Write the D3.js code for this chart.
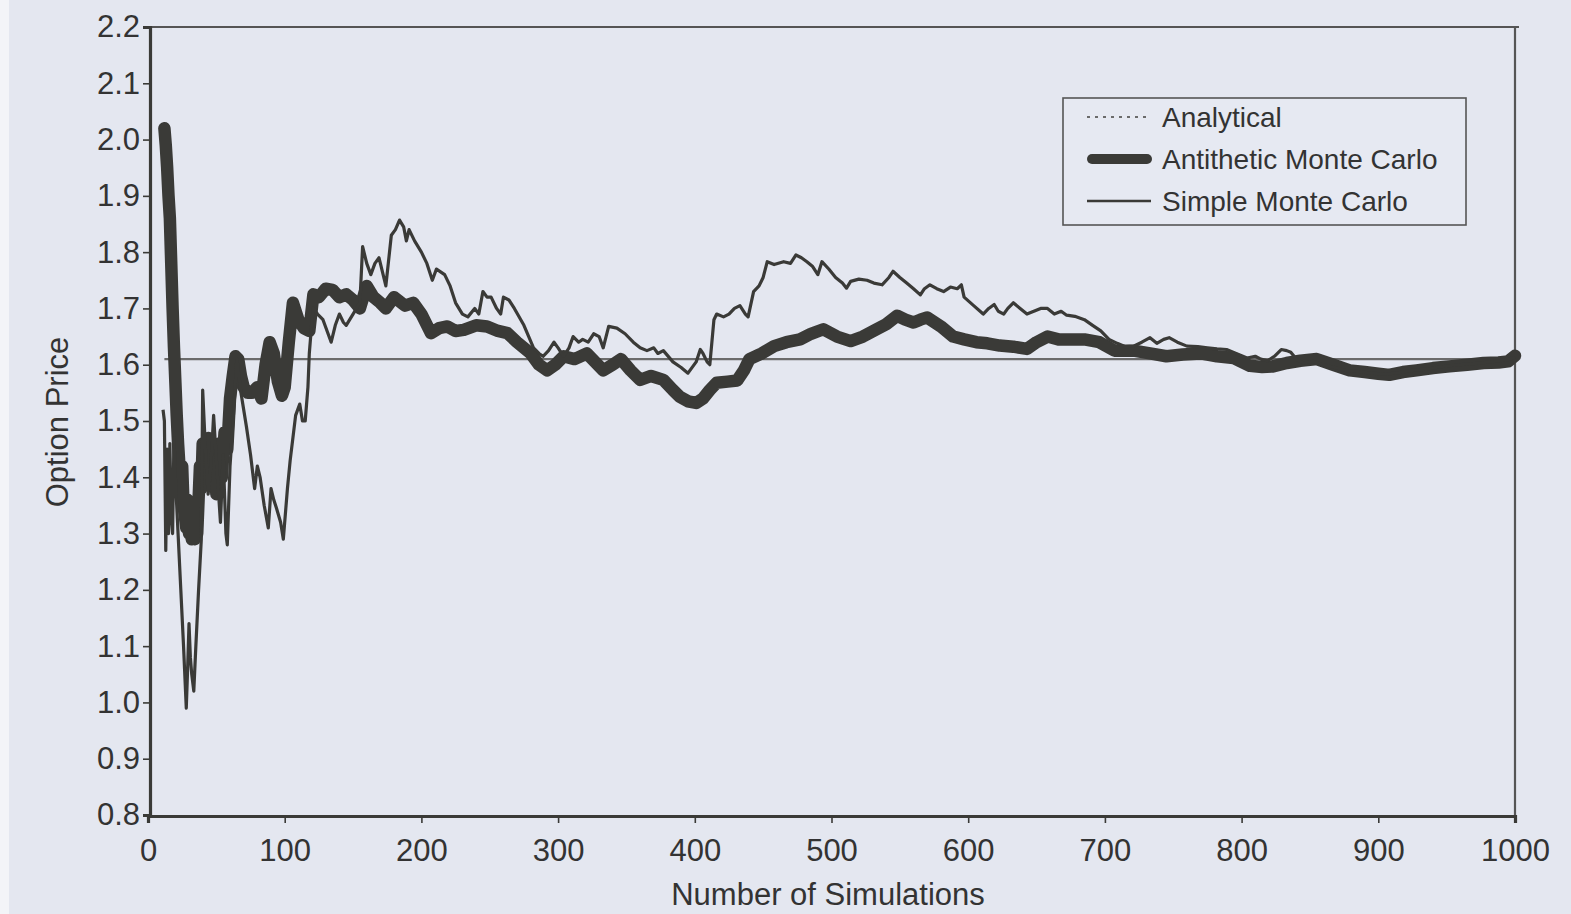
<!DOCTYPE html>
<html>
<head>
<meta charset="utf-8">
<script src="https://cdn.jsdelivr.net/npm/d3@7"></script>
<style>
  body { margin: 0; background: #e4e7f0; }
  svg { display: block; }
  text { font-family: "Liberation Sans", Arial, sans-serif; fill: #333; }
</style>
</head>
<body>
<div id="chart"></div>
<script>
// [simulations, price]
var antithetic = [
  [12, 2.02], [13, 1.99], [14, 1.95], [15, 1.90], [16, 1.86], [17, 1.78], [18, 1.70], [19, 1.63],
  [20, 1.57], [21, 1.51], [22, 1.46], [23, 1.42], [24, 1.37], [25, 1.42], [26, 1.35], [27, 1.33],
  [28, 1.31], [29, 1.36], [30, 1.30], [31, 1.33], [32, 1.29], [33, 1.31], [34, 1.29], [35, 1.32],
  [36, 1.30], [37, 1.36], [38, 1.42], [39, 1.38], [40, 1.46], [42, 1.40], [44, 1.47], [46, 1.40],
  [48, 1.45], [50, 1.37], [52, 1.46], [54, 1.40], [56, 1.48], [58, 1.45], [60, 1.54], [62, 1.58],
  [64, 1.615], [66, 1.61], [68, 1.58], [70, 1.56], [73, 1.55], [76, 1.55], [80, 1.56], [83, 1.54],
  [86, 1.60], [89, 1.64], [92, 1.62], [95, 1.57], [98, 1.545], [100, 1.56], [103, 1.64], [106, 1.71],
  [110, 1.68], [114, 1.665], [118, 1.66], [121, 1.725], [125, 1.72], [130, 1.735], [135, 1.733],
  [140, 1.72], [145, 1.725], [150, 1.715], [155, 1.70], [160, 1.74], [165, 1.72], [170, 1.71],
  [174, 1.70], [180, 1.72], [188, 1.705], [194, 1.71], [200, 1.69], [207, 1.656], [213, 1.665],
  [219, 1.668], [225, 1.66], [231, 1.662], [240, 1.67], [248, 1.668], [256, 1.66], [263, 1.656],
  [270, 1.64], [280, 1.62], [286, 1.60], [292, 1.59], [298, 1.60], [304, 1.615], [312, 1.61],
  [321, 1.62], [327, 1.605], [333, 1.59], [340, 1.60], [346, 1.61], [353, 1.59], [360, 1.573],
  [368, 1.58], [377, 1.573], [384, 1.555], [389, 1.543], [395, 1.535], [401, 1.532], [406, 1.54],
  [411, 1.555], [416, 1.568], [424, 1.57], [431, 1.572], [436, 1.59], [440, 1.61], [449, 1.62],
  [458, 1.633], [467, 1.64], [477, 1.645], [485, 1.655], [494, 1.663], [504, 1.65], [514, 1.642],
  [523, 1.65], [533, 1.663], [540, 1.672], [548, 1.687], [554, 1.68], [560, 1.675], [565, 1.68],
  [570, 1.684], [580, 1.668], [589, 1.65], [597, 1.645], [606, 1.64], [614, 1.638], [623, 1.634],
  [633, 1.632], [643, 1.628], [650, 1.64], [658, 1.65], [666, 1.645], [675, 1.645], [685, 1.645],
  [696, 1.64], [707, 1.625], [714, 1.625], [721, 1.625], [733, 1.62], [745, 1.615], [757, 1.618],
  [770, 1.62], [782, 1.615], [794, 1.612], [806, 1.598], [815, 1.596], [823, 1.597], [833, 1.603],
  [843, 1.607], [855, 1.61], [867, 1.60], [879, 1.59], [890, 1.587], [900, 1.584], [908, 1.582],
  [918, 1.587], [928, 1.59], [940, 1.594], [952, 1.597], [965, 1.60], [977, 1.603], [988, 1.604],
  [995, 1.606], [1000, 1.616]
];

var simple = [
  [11, 1.52], [12, 1.50], [13, 1.27], [14, 1.45], [15, 1.30], [16, 1.46], [17, 1.33], [18, 1.30],
  [19, 1.47], [20, 1.40], [21, 1.35], [22, 1.30], [24, 1.20], [26, 1.10], [28, 0.99], [29, 1.06],
  [30, 1.14], [31, 1.08], [32, 1.05], [33.5, 1.02], [35, 1.10], [37, 1.20], [39, 1.29], [40, 1.555],
  [42, 1.45], [44, 1.37], [46, 1.42], [48, 1.51], [50, 1.43], [53, 1.32], [55, 1.44], [57, 1.30],
  [58, 1.28], [60, 1.42], [62.5, 1.51], [65, 1.61], [68, 1.55], [72, 1.49], [75, 1.44], [78, 1.38],
  [80, 1.42], [82, 1.40], [85, 1.35], [88, 1.31], [90, 1.38], [92, 1.36], [94, 1.345], [97, 1.32],
  [99, 1.29], [102, 1.38], [104, 1.43], [106, 1.47], [108, 1.51], [111, 1.53], [113, 1.50],
  [115, 1.50], [117, 1.56], [118, 1.62], [120, 1.68], [121, 1.70], [124, 1.69], [128, 1.68],
  [131, 1.66], [134, 1.64], [137, 1.67], [140, 1.69], [143, 1.675], [145, 1.67], [150, 1.69],
  [155, 1.71], [157, 1.81], [160, 1.78], [163, 1.76], [166, 1.78], [169, 1.79], [172, 1.76],
  [174, 1.74], [178, 1.83], [181, 1.84], [184, 1.857], [187, 1.845], [189, 1.82], [191, 1.84],
  [195, 1.82], [200, 1.80], [204, 1.78], [208, 1.75], [211, 1.77], [214, 1.765], [217, 1.76],
  [221, 1.74], [225, 1.71], [230, 1.69], [234, 1.685], [239, 1.70], [242, 1.69], [245, 1.73],
  [248, 1.72], [251, 1.72], [255, 1.70], [258, 1.69], [260, 1.72], [264, 1.715], [268, 1.70],
  [275, 1.67], [282, 1.63], [286, 1.62], [289, 1.615], [293, 1.625], [297, 1.64], [300, 1.63],
  [304, 1.615], [308, 1.63], [311, 1.65], [315, 1.64], [318, 1.645], [322, 1.64], [326, 1.655],
  [330, 1.65], [333, 1.63], [337, 1.668], [343, 1.665], [349, 1.655], [355, 1.64], [360, 1.63],
  [365, 1.625], [370, 1.63], [373, 1.62], [377, 1.625], [384, 1.605], [390, 1.595], [395, 1.585],
  [401, 1.605], [404, 1.627], [406, 1.62], [409, 1.605], [411, 1.60], [414, 1.68], [416, 1.69],
  [421, 1.685], [425, 1.69], [429, 1.70], [433, 1.705], [437, 1.69], [439, 1.685], [443, 1.73],
  [447, 1.74], [450, 1.755], [453, 1.783], [458, 1.778], [465, 1.783], [470, 1.78], [474, 1.795],
  [478, 1.79], [482, 1.783], [486, 1.775], [490, 1.76], [493, 1.783], [498, 1.77], [503, 1.755],
  [508, 1.745], [511, 1.736], [514, 1.748], [520, 1.752], [526, 1.75], [531, 1.745], [537, 1.742],
  [542, 1.755], [545, 1.766], [550, 1.755], [555, 1.745], [560, 1.735], [565, 1.724], [568, 1.735],
  [572, 1.742], [577, 1.735], [582, 1.73], [587, 1.738], [592, 1.735], [595, 1.742], [597, 1.72],
  [604, 1.705], [611, 1.69], [615, 1.70], [619, 1.707], [622, 1.695], [626, 1.69], [629, 1.70],
  [633, 1.71], [638, 1.70], [643, 1.69], [648, 1.695], [653, 1.70], [658, 1.70], [663, 1.69],
  [668, 1.695], [672, 1.688], [678, 1.686], [685, 1.68], [691, 1.67], [697, 1.66], [703, 1.645],
  [709, 1.638], [715, 1.632], [721, 1.633], [727, 1.64], [733, 1.648], [738, 1.638], [743, 1.645],
  [747, 1.648], [753, 1.64], [760, 1.633], [768, 1.632], [775, 1.63], [782, 1.628], [789, 1.627],
  [796, 1.62], [804, 1.612], [810, 1.615], [814, 1.61], [819, 1.607], [824, 1.615], [829, 1.627],
  [833, 1.625], [836, 1.622], [840, 1.61], [845, 1.603], [852, 1.606], [860, 1.60], [868, 1.595],
  [876, 1.59], [885, 1.588], [895, 1.585], [905, 1.583], [915, 1.586], [925, 1.59], [935, 1.592],
  [945, 1.596], [955, 1.599], [965, 1.601], [975, 1.603], [985, 1.606], [995, 1.609], [1000, 1.614]
];

var analytical = [[12, 1.61], [1000, 1.61]];

var xTicks = [0, 100, 200, 300, 400, 500, 600, 700, 800, 900, 1000];
var yTicks = [0.8, 0.9, 1.0, 1.1, 1.2, 1.3, 1.4, 1.5, 1.6, 1.7, 1.8, 1.9, 2.0, 2.1, 2.2];

var legendNames = ["Analytical", "Antithetic Monte Carlo", "Simple Monte Carlo"];

var width = 1571,
height = 914;

var plotLeft = 148, plotRight = 1515, plotTop = 27, plotBottom = 815;

var ink = "#3a3a37";

var svg = d3.select("#chart")
.append("svg")
.attr("width", width)
.attr("height", height);

//Paper
svg.append("rect")
.attr("width", width)
.attr("height", height)
.attr("fill", "#e4e7f0");

svg.append("rect")
.attr("width", 9)
.attr("height", height)
.attr("fill", "#f3f4f8");

var xScale = d3.scaleLinear()
.domain([0, 1000])
.range([plotLeft, plotRight]);

var yScale = d3.scaleLinear()
.domain([0.8, 2.2])
.range([plotBottom, plotTop]);

//Frame top and right
svg.append("line")
.attr("x1", plotLeft).attr("x2", plotRight + 4)
.attr("y1", plotTop).attr("y2", plotTop)
.attr("stroke", "#555").attr("stroke-width", 2.2);

svg.append("line")
.attr("x1", plotRight).attr("x2", plotRight)
.attr("y1", plotTop).attr("y2", plotBottom)
.attr("stroke", "#555").attr("stroke-width", 2.2);

//Axes
var xAxis = d3.axisBottom(xScale)
.tickValues(xTicks)
.tickSize(7)
.tickPadding(15)
.tickFormat(d3.format("d"));

var yAxis = d3.axisLeft(yScale)
.tickValues(yTicks)
.tickSize(7)
.tickPadding(3)
.tickFormat(d3.format(".1f"));

var gx = svg.append("g")
.attr("transform", "translate(0," + (plotBottom + 1) + ")")
.call(xAxis);

var gy = svg.append("g")
.attr("transform", "translate(" + (plotLeft + 2) + ",0)")
.call(yAxis);

[gx, gy].forEach(function(g) {
  g.select(".domain").attr("stroke", ink).attr("stroke-width", 3.2);
  g.selectAll(".tick line").attr("stroke", ink).attr("stroke-width", 1.6);
  g.selectAll(".tick text")
  .style("font-family", "'Liberation Sans', Arial, sans-serif")
  .style("font-size", "31px")
  .attr("fill", "#333");
});

gx.selectAll(".tick text").attr("dy", "0.75em");

//Axis titles
svg.append("text")
.attr("x", 828)
.attr("y", 905)
.attr("text-anchor", "middle")
.style("font-size", "31px")
.text("Number of Simulations");

svg.append("text")
.attr("transform", "translate(68,422) rotate(-90)")
.attr("text-anchor", "middle")
.style("font-size", "31px")
.text("Option Price");

var line = d3.line()
.x(function(d) { return xScale(d[0]); })
.y(function(d) { return yScale(d[1]); });

//Analytical
svg.append("path")
.datum(analytical)
.attr("d", line)
.attr("fill", "none")
.attr("stroke", "#6b6b6b")
.attr("stroke-width", 2.4);

//Antithetic Monte Carlo
svg.append("path")
.datum(antithetic)
.attr("d", line)
.attr("fill", "none")
.attr("stroke", ink)
.attr("stroke-width", 12.5)
.attr("stroke-linejoin", "round")
.attr("stroke-linecap", "round");

//Simple Monte Carlo
svg.append("path")
.datum(simple)
.attr("d", line)
.attr("fill", "none")
.attr("stroke", ink)
.attr("stroke-width", 3.2)
.attr("stroke-linejoin", "round");

//Legend
var legend = svg.append("g")
.attr("transform", "translate(1063,98)");

legend.append("rect")
.attr("width", 403)
.attr("height", 127)
.attr("fill", "#e6e9f2")
.attr("stroke", "#555")
.attr("stroke-width", 1.6);

var legendStyles = [
  { w: 2, dash: "3,5", color: "#6b6b6b", cap: "butt" },
  { w: 10, dash: null, color: ink, cap: "round" },
  { w: 2.6, dash: null, color: ink, cap: "butt" }
];

legendNames.forEach(function(name, i) {
  var y = 19 + i * 42;
  var s = legendStyles[i];
  legend.append("line")
  .attr("x1", i == 1 ? 29 : 24).attr("x2", i == 1 ? 84 : 88)
  .attr("y1", y).attr("y2", y)
  .attr("stroke", s.color)
  .attr("stroke-width", s.w)
  .attr("stroke-linecap", s.cap)
  .attr("stroke-dasharray", s.dash);

  legend.append("text")
  .attr("x", 99)
  .attr("y", y + 10)
  .style("font-size", "28px")
  .text(name);
});
</script>
</body>
</html>
